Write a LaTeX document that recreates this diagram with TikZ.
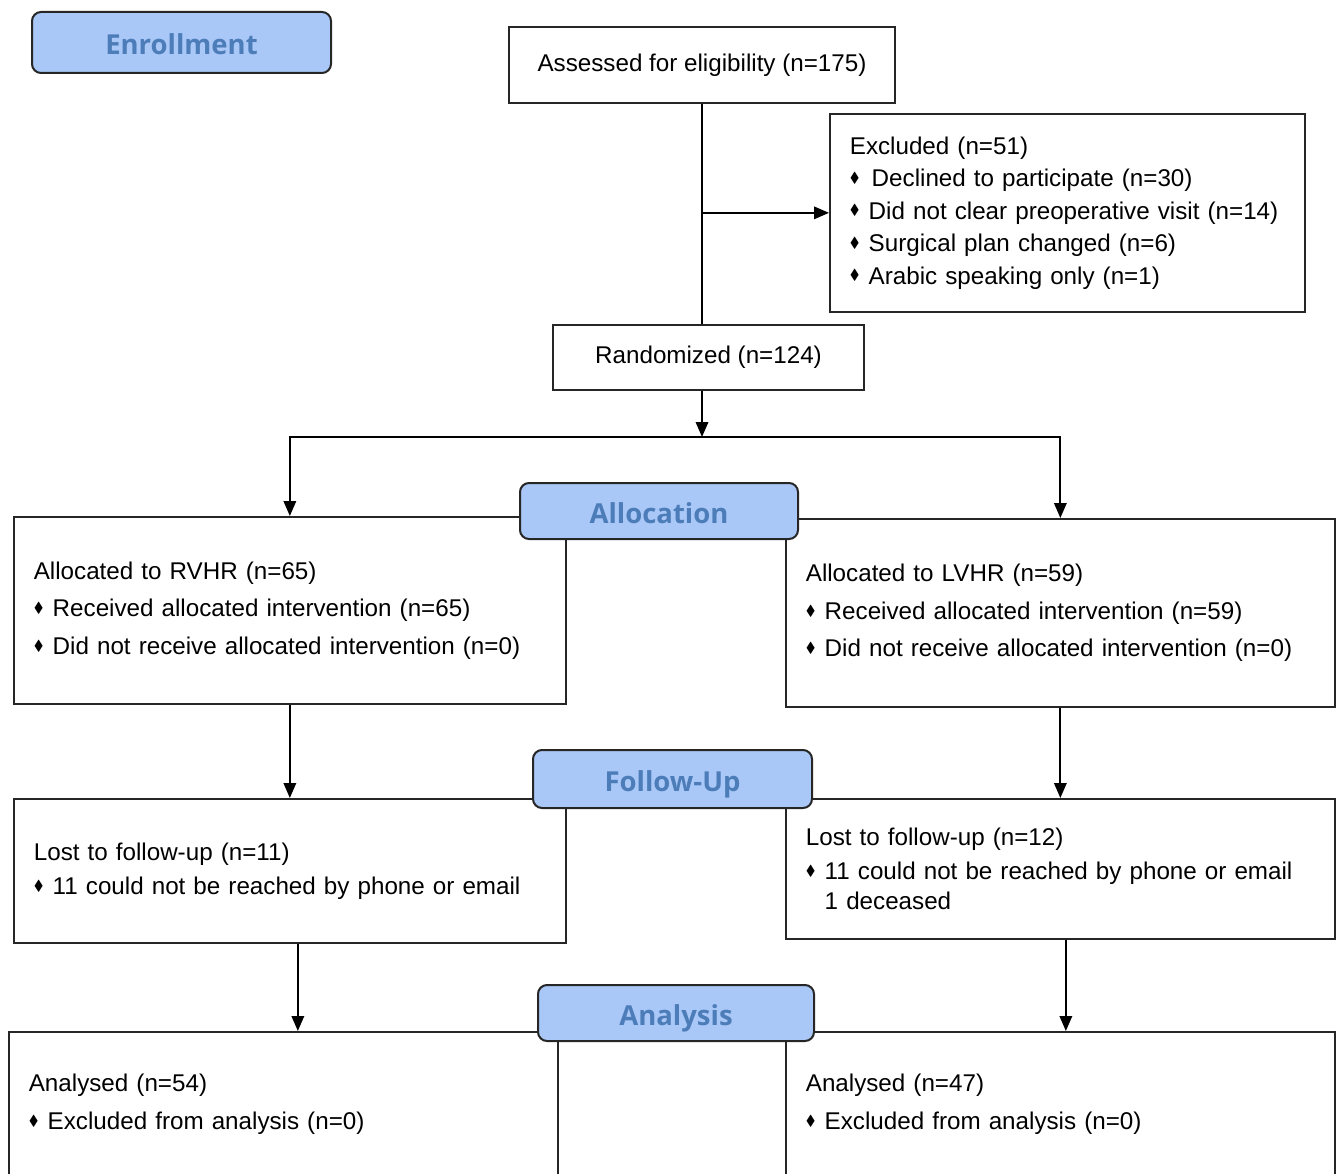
\documentclass[tikz,border=0pt]{standalone}
\usepackage{amssymb}
\usepackage{graphicx}
\usepackage{fontspec}
\setmainfont{Liberation Sans}
\newfontfamily\stagefamily{Open Sans}
\usepackage{tikz}
\usetikzlibrary{arrows.meta}
\definecolor{stagefill}{HTML}{A9C8F7}
\definecolor{stagetext}{HTML}{4D7DB8}
\newcommand{\dia}{\raisebox{0.17em}{\scalebox{0.6}{$\blacklozenge$}}\hspace{0.38em}}

\begin{document}
\begin{tikzpicture}[x=1pt,y=-1pt,
	font=\fontsize{24.2}{29}\selectfont,
	stagebox/.style={draw=black!85, line width=2pt, rounded corners=9pt, fill=stagefill, text=stagetext, text height=24pt, text depth=0pt, font=\fontsize{27.5}{30}\selectfont\stagefamily\bfseries},
	flowbox/.style={draw=black!85, line width=1.7pt, inner xsep=20pt, inner ysep=0pt, align=left},
	arr/.style={-{Triangle[length=15pt,width=12.5pt]}, line width=1.8pt}]
				\useasboundingbox (0,0) rectangle (1340,1174);
				\clip (0,0) rectangle (1340,1174);
				% enrollment
				\node[flowbox, minimum width=386pt, minimum height=76pt, align=center] (assess) at (702,65) {Assessed for eligibility (n=175)};
				\node[flowbox, anchor=north west, text width=435pt, minimum height=198pt] (excl) at (829,113) {Excluded (n=51)\\[3.5pt]
					\dia\hspace{3pt}Declined to participate (n=30)\\[3.5pt]
					\dia Did not clear preoperative visit (n=14)\\[3.5pt]
					\dia Surgical plan changed (n=6)\\[3.5pt]
					\dia Arabic speaking only (n=1)};
				\node[flowbox, minimum width=311pt, minimum height=65pt, align=center] (random) at (708.5,357.5) {Randomized (n=124)};
				% allocation
				\node[flowbox, anchor=north west, text width=512pt, minimum height=187pt] (allocL) at (13,516) {Allocated to RVHR (n=65)\\[8.5pt]
					\dia Received allocated intervention (n=65)\\[8.5pt]
					\dia Did not receive allocated intervention (n=0)};
				\node[flowbox, anchor=north west, text width=509pt, minimum height=188pt] (allocR) at (785,518) {Allocated to LVHR (n=59)\\[8.5pt]
					\dia Received allocated intervention (n=59)\\[8.5pt]
					\dia Did not receive allocated intervention (n=0)};
				% follow-up
				\node[flowbox, anchor=north west, text width=512pt, minimum height=144pt] (followL) at (13,798) {Lost to follow-up (n=11)\\[5pt]
					\dia 11 could not be reached by phone or email};
				\node[flowbox, anchor=north west, text width=509pt, minimum height=140pt] (followR) at (785,798) {Lost to follow-up (n=12)\\[5pt]
					\dia 11 could not be reached by phone or email\\[1pt]
					\phantom{\dia}1 deceased};
				% analysis
				\node[flowbox, anchor=north west, text width=509pt, minimum height=145pt] (anaL) at (8,1031) {Analysed (n=54)\\[9pt]
					\dia Excluded from analysis (n=0)};
				\node[flowbox, anchor=north west, text width=509pt, minimum height=145pt] (anaR) at (785,1031) {Analysed (n=47)\\[9pt]
					\dia Excluded from analysis (n=0)};
				% connectors
				\coordinate (split) at (702,437);
				\draw[line width=1.8pt] (assess.south) -- (assess.south |- random.north);
				\draw[arr] (assess.south |- excl.west) -- (excl.west);
				\draw[arr] (assess.south |- random.south) -- (split);
				\draw[arr] (split) -| (allocL.north);
				\draw[arr] (split) -| (allocR.north);
				\draw[arr] (allocL.south) -- (followL.north);
				\draw[arr] (allocR.south) -- (followR.north);
				\draw[arr] ([xshift=8pt]followL.south) -- ([xshift=8pt]followL.south |- anaL.north);
				\draw[arr] ([xshift=5.5pt]followR.south) -- ([xshift=5.5pt]followR.south |- anaR.north);
				% stage labels
				\node[stagebox, minimum width=299pt, minimum height=61pt] (enrol) at (181.5,42.5) {Enrollment};
				\node[stagebox, minimum width=278pt, minimum height=56pt] (alloc) at (659,511) {Allocation};
				\node[stagebox, minimum width=279pt, minimum height=58pt] (follow) at (672.5,779) {Follow-Up};
				\node[stagebox, minimum width=276pt, minimum height=56pt] (analysis) at (676,1013) {Analysis};
				\end{tikzpicture}
\end{document}
